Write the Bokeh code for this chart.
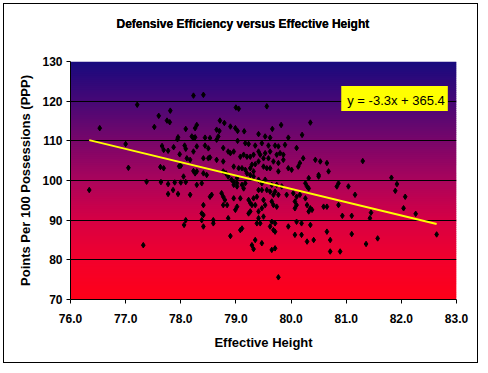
from bokeh.plotting import figure
from bokeh.models import (Range1d, FixedTicker, PrintfTickFormatter, Label, ColumnDataSource,
                          LinearAxis)
from bokeh.embed import file_html
from bokeh.resources import INLINE

title_text = "Defensive Efficiency versus Effective Height"
x_label = "Effective Height"
y_label = "Points Per 100 Possessions (PPP)"
x_ticks = [76, 77, 78, 79, 80, 81, 82, 83]
y_ticks = [70, 80, 90, 100, 110, 120, 130]

eff_height = [
    77.21, 77.81, 77.60, 77.75, 77.80, 76.53, 77.52, 78.09, 77.95, 77.94, 77.00, 77.66, 77.87,
    77.69, 77.77, 78.07, 78.09, 77.98, 78.00, 77.97, 77.63, 77.69, 77.05, 77.38, 77.64, 77.77,
    77.89, 78.00, 78.09, 77.86, 77.77, 77.95, 76.34, 78.09, 78.06, 77.32,
    78.23, 78.41, 79.00, 79.05, 78.71, 78.79, 78.29, 78.26, 78.65, 78.70, 78.90, 78.99, 79.03,
    79.15, 78.20, 78.26, 78.23, 78.44, 78.53, 78.68, 78.65, 79.03, 79.17, 79.23, 79.35, 79.41,
    78.44, 78.50, 78.29, 78.23, 78.77, 78.86, 78.90, 78.96, 79.08, 79.14, 79.20, 79.26, 79.32,
    79.41, 79.44, 78.11, 78.17, 78.41, 78.50, 78.53, 78.65, 78.77, 79.41, 79.35, 78.96, 79.05,
    79.11, 79.17, 79.26, 79.29, 79.32, 78.23, 78.29, 78.26, 78.41, 78.47, 78.77, 78.82, 79.20,
    79.26, 79.32, 78.05, 78.86, 78.92, 78.96, 79.02, 79.02, 78.96, 79.02, 79.11, 79.14, 79.17,
    78.29, 78.38, 79.47, 78.17, 78.56, 78.53, 78.74, 78.77, 78.80, 78.77, 78.84, 78.96, 79.08,
    79.23, 79.26, 79.29, 79.32, 79.38, 79.35, 78.41, 79.02, 78.99, 79.23, 79.26, 79.41, 78.38,
    78.41, 78.38, 78.59, 78.59, 78.86, 78.41, 79.11, 79.08, 79.38, 79.44, 78.90, 79.35, 79.47,
    79.29, 79.32,
    79.56, 80.35, 79.82, 79.66, 79.53, 79.62, 79.95, 80.20, 79.47, 79.59, 79.71, 79.77, 79.89,
    80.10, 79.53, 79.62, 79.74, 79.80, 79.86, 80.22, 79.50, 79.59, 79.68, 79.77, 79.86, 80.44,
    80.53, 80.65, 79.50, 79.56, 79.62, 79.77, 79.95, 80.01, 80.13, 80.16, 80.50, 80.50, 80.68,
    79.41, 79.53, 80.32, 80.26, 80.86, 80.83, 79.65, 79.74, 79.83, 80.29, 80.32, 79.41, 79.47,
    79.56, 79.62, 79.71, 79.68, 79.77, 79.92, 80.04, 80.10, 80.16, 80.26, 79.50, 79.53, 79.47,
    79.65, 79.68, 79.74, 80.07, 80.10, 80.07, 80.29, 80.35, 80.38, 80.32, 80.59, 80.65, 79.41,
    79.50, 79.65, 79.71, 80.10, 80.19, 80.35, 79.62, 79.68, 79.71, 79.95, 80.07, 80.19, 80.65,
    80.29, 80.41, 80.71, 79.65, 79.71, 80.71, 80.89, 79.77,
    81.30, 81.04, 81.16, 80.86, 80.93, 81.10, 81.43, 81.45, 81.82, 81.92, 81.89, 82.07, 82.04,
    82.26, 82.64, 81.10, 81.36, 81.57,
]
ppp = [
    119.1, 117.6, 116.3, 115.1, 114.7, 113.2, 113.5, 113.0, 110.9, 110.4, 109.2, 108.7, 108.4,
    107.7, 107.5, 108.8, 108.0, 106.6, 103.7, 103.6, 103.4, 103.1, 103.2, 99.7, 99.6, 99.1,
    99.5, 99.5, 99.6, 97.6, 96.6, 96.6, 97.6, 90.0, 88.8, 83.7,
    121.4, 121.6, 118.4, 118.1, 115.1, 114.5, 114.0, 113.2, 112.8, 112.5, 113.6, 113.2, 112.5,
    112.4, 111.1, 110.9, 110.7, 110.8, 110.7, 111.1, 110.3, 110.0, 109.4, 109.2, 108.8, 111.7,
    108.8, 108.1, 108.6, 107.3, 108.2, 107.3, 106.9, 107.3, 106.0, 106.5, 106.0, 106.0, 106.5,
    107.3, 106.5, 105.6, 105.2, 105.6, 105.6, 105.8, 105.2, 104.8, 104.8, 104.1, 103.5, 103.1,
    103.1, 102.7, 103.1, 104.0, 102.3, 102.4, 102.3, 101.8, 101.8, 101.4, 102.3, 101.8, 101.8,
    101.4, 101.0, 101.0, 101.0, 100.2, 99.7, 99.3, 100.6, 98.9, 98.5, 98.9, 98.0, 99.3,
    98.9, 99.3, 99.3, 96.4, 96.4, 95.9, 96.8, 95.9, 95.1, 93.8, 93.8, 95.5, 95.5,
    95.1, 94.3, 93.8, 95.5, 95.9, 93.8, 93.8, 93.4, 92.6, 91.7, 92.2, 92.2, 91.7,
    91.3, 90.0, 90.0, 89.2, 90.5, 88.4, 87.9, 87.5, 89.2, 89.2, 86.0, 85.0, 84.2,
    83.7, 82.7,
    118.7, 114.6, 114.0, 113.0, 111.1, 110.8, 110.8, 111.5, 109.4, 108.8, 108.8, 108.6, 109.0,
    108.2, 106.9, 107.3, 106.5, 106.9, 106.5, 105.6, 105.6, 105.6, 104.8, 104.4, 105.2, 105.2,
    104.8, 104.4, 103.5, 103.1, 103.1, 102.3, 103.1, 102.7, 103.5, 104.4, 101.4, 101.0, 102.3,
    100.2, 100.2, 100.6, 99.3, 99.3, 98.5, 98.9, 98.9, 98.5, 98.5, 98.0, 97.6, 97.6,
    97.6, 97.2, 97.2, 96.4, 96.4, 96.4, 96.8, 95.9, 96.4, 95.5, 95.1, 93.8, 93.0,
    94.7, 93.8, 93.4, 94.7, 93.8, 93.0, 93.8, 93.0, 92.6, 92.2, 93.4, 93.4, 90.5,
    90.9, 89.6, 89.2, 89.6, 89.2, 88.8, 88.4, 87.5, 87.1, 88.4, 86.3, 86.3, 87.1,
    84.6, 85.0, 85.0, 82.5, 82.9, 82.1, 82.1, 75.6,
    104.9, 98.5, 96.4, 93.8, 91.1, 91.1, 90.5, 91.9, 100.7, 99.1, 97.4, 95.9, 93.0,
    91.6, 86.4, 86.5, 84.0, 85.4,
]

# trendline as drawn (fit coefficients) and the equation label shown
trend_slope = -3.355
trend_intercept = 366.3
equation_text = "y = -3.3x + 365.4"

x_min, x_max = 76, 83
y_min, y_max = 70, 130

FONT = "Liberation Sans"

p = figure(width=475, height=360, output_backend="svg", toolbar_location=None,
           x_range=Range1d(x_min, x_max), y_range=Range1d(y_min, y_max),
           min_border_left=66, min_border_right=23, min_border_top=57, min_border_bottom=65,
           background_fill_color=None, border_fill_color="white", outline_line_color=None)
p.margin = (3, 0, 0, 3)
p.styles = {"border": "1px solid black"}

title_obj = p.title
title_obj.text = title_text
title_obj.align = "left"
title_obj.offset = 46
title_obj.vertical_align = "bottom"
title_obj.standoff = 10
title_obj.text_font = FONT
title_obj.text_font_size = "12px"
title_obj.text_font_style = "bold"
title_obj.text_color = "black"

# empty spacer axis between plot area and title (no ticks, no labels)
spacer = LinearAxis(ticker=FixedTicker(ticks=[]), axis_line_color=None,
                    major_tick_line_color=None, minor_tick_line_color=None,
                    major_tick_out=25, major_tick_in=0, minor_tick_out=0, minor_tick_in=0,
                    major_label_standoff=0)
p.above = [spacer, title_obj]

# gradient background (navy at top to red at bottom)
stops = [(130, (24, 10, 126)), (120, (70, 8, 118)), (110, (120, 6, 106)),
         (100, (170, 4, 92)), (90, (214, 0, 68)), (80, (242, 0, 44)), (70, (255, 0, 24))]
stops = sorted(stops)
n = 120
bottoms, tops, colors = [], [], []
step = (y_max - y_min) / n
for i in range(n):
    b = y_min + i * step
    t = b + step
    mid = (b + t) / 2
    for j in range(len(stops) - 1):
        if stops[j][0] <= mid <= stops[j + 1][0]:
            f = (mid - stops[j][0]) / (stops[j + 1][0] - stops[j][0])
            c = tuple(int(round(stops[j][1][k] + f * (stops[j + 1][1][k] - stops[j][1][k]))) for k in range(3))
            break
    bottoms.append(b)
    tops.append(min(t + step * 0.6, y_max))
    colors.append("#%02x%02x%02x" % c)
bg = p.quad(left=x_min, right=x_max, bottom=bottoms, top=tops, fill_color=colors, line_color=None)
bg.level = "image"

# grid
p.xgrid.visible = False
p.ygrid.ticker = FixedTicker(ticks=y_ticks)
p.ygrid.grid_line_color = "black"
p.ygrid.grid_line_width = 1
p.ygrid.grid_line_alpha = 1.0

# points
src = ColumnDataSource(dict(x=eff_height, y=ppp))
p.scatter("x", "y", source=src, marker="diamond", size=5.5, color="black")

# trendline across data extent
tx = [min(eff_height), max(eff_height)]
ty = [trend_slope * v + trend_intercept for v in tx]
p.line(tx, ty, line_color="#FFFF00", line_width=2)

# equation label
p.add_layout(Label(x=80.91, y=120.7, text=equation_text, text_align="left", text_baseline="middle",
                   text_font=FONT, text_font_size="13px", text_color="black",
                   background_fill_color="#FFFF00", padding=(6, 3, 7, 3)))

xax = p.below[0]
yax = p.left[0]
for ax in (xax, yax):
    ax.axis_line_color = "black"
    ax.axis_line_width = 1
    ax.major_tick_line_color = "black"
    ax.major_tick_out = 4
    ax.major_tick_in = 0
    ax.minor_tick_line_color = None
    ax.major_label_text_font = FONT
    ax.major_label_text_font_size = "12px"
    ax.major_label_text_font_style = "bold"
    ax.major_label_text_color = "black"
    ax.axis_label_text_font = FONT
    ax.axis_label_text_font_size = "13px"
    ax.axis_label_text_font_style = "bold"
    ax.axis_label_text_color = "black"

xax.ticker = FixedTicker(ticks=x_ticks)
xax.formatter = PrintfTickFormatter(format="%.1f")
yax.ticker = FixedTicker(ticks=y_ticks)
xax.axis_label = x_label
yax.axis_label = y_label
xax.major_label_standoff = 10
xax.axis_label_standoff = 9
yax.major_label_standoff = 4
yax.axis_label_standoff = 6

open("out.html", "w").write(file_html(p, INLINE))
